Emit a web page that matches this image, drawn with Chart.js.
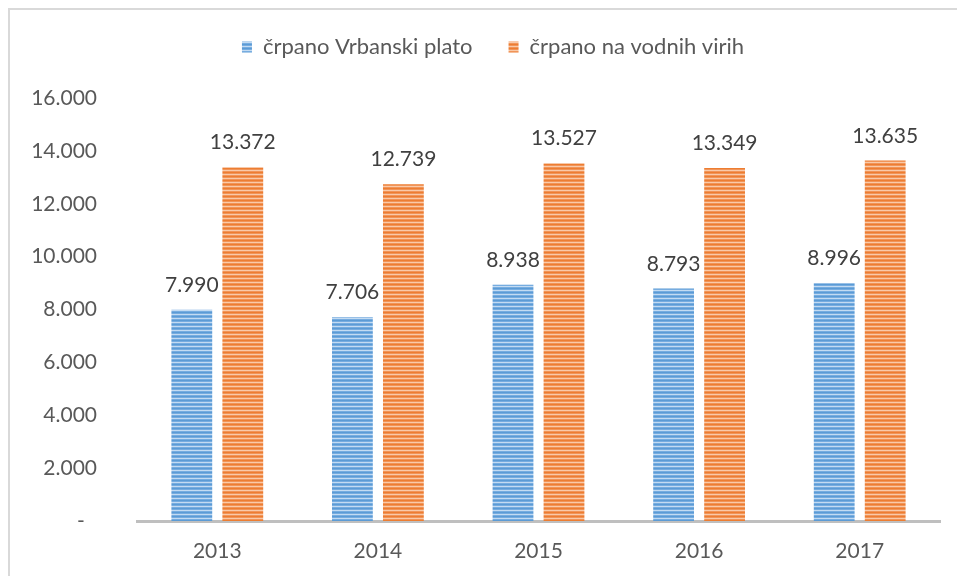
<!DOCTYPE html>
<html>
<head>
<meta charset="utf-8">
<script src="https://cdn.jsdelivr.net/npm/chart.js@4/dist/chart.umd.min.js"></script>
<style>
    html, body { margin: 0; padding: 0; background: #ffffff; }
    #wrap { width: 957px; height: 576px; position: relative; }
</style>
</head>
<body>
<div id="wrap"><canvas id="chartCrpanje"></canvas></div>
<script>
const years = ["2013", "2014", "2015", "2016", "2017"];
const vrbanskiPlato = [7990, 7706, 8938, 8793, 8996];
const vodniViri = [13372, 12739, 13527, 13349, 13635];
const seriesNames = ["črpano Vrbanski plato", "črpano na vodnih virih"];
const yMax = 16000;
const yStep = 2000;

const fmt = (n) => String(n).replace(/\B(?=(\d{3})+(?!\d))/g, ".");

// horizontal stripes like the excel fill
const stripes = (rows) => {
    const c = document.createElement("canvas");
    c.width = 4;
    c.height = rows.length;
    const g = c.getContext("2d");
    rows.forEach((col, i) => {
        g.fillStyle = col;
        g.fillRect(0, i, 4, 1);
    });
    return g.createPattern(c, "repeat");
};

const blueFill = stripes(["#5b9bd5", "#76ace0", "#c3dbf2", "#76ace0"]);
const orangeFill = stripes(["#ed7d31", "#f19458", "#f9caa8", "#f19458"]);

const frame = {
    id: "frame",
    beforeInit(chart) {
        const fit = chart.legend.fit;
        chart.legend.fit = function () {
            fit.bind(chart.legend)();
            this.height += 30;
        };
    },
    afterLayout(chart) {
        // legend sits a bit right of the canvas centre
        chart.legend.left += 18;
        chart.legend.right += 18;
    },
    beforeDraw(chart) {
        const ctx = chart.ctx;
        ctx.save();
        ctx.fillStyle = "#ffffff";
        ctx.fillRect(0, 0, chart.width, chart.height);
        ctx.strokeStyle = "#d9d9d9";
        ctx.lineWidth = 2;
        ctx.beginPath();
        ctx.moveTo(9, chart.height);
        ctx.lineTo(9, 9);
        ctx.lineTo(chart.width, 9);
        ctx.stroke();
        ctx.restore();
    },
};

const barLabels = {
    id: "barLabels",
    afterDatasetsDraw(chart) {
        const ctx = chart.ctx;
        ctx.save();
        ctx.font = "21px Lato";
        ctx.fillStyle = "#404040";
        ctx.textAlign = "center";
        ctx.textBaseline = "alphabetic";
        chart.data.datasets.forEach((ds, i) => {
            chart.getDatasetMeta(i).data.forEach((bar, j) => {
                ctx.fillText(fmt(ds.data[j]), bar.x, bar.y - 18);
            });
        });
        ctx.restore();
    },
};

new Chart(document.getElementById("chartCrpanje").getContext("2d"), {
    type: "bar",
    data: {
        labels: years,
        datasets: [
            {
                label: seriesNames[0],
                data: vrbanskiPlato,
                backgroundColor: blueFill,
                borderWidth: 0,
            },
            {
                label: seriesNames[1],
                data: vodniViri,
                backgroundColor: orangeFill,
                borderWidth: 0,
            },
        ],
    },
    options: {
        responsive: true,
        maintainAspectRatio: false,
        animation: false,
        categoryPercentage: 0.635,
        barPercentage: 0.8,
        layout: {
            padding: { top: 0, left: 10, right: 17, bottom: 0 },
        },
        plugins: {
            legend: {
                position: "top",
                labels: {
                    boxWidth: 10,
                    boxHeight: 11,
                    padding: 36,
                    color: "#595959",
                    font: { family: "Lato", size: 22 },
                },
            },
            tooltip: { enabled: false },
        },
        scales: {
            x: {
                grid: { display: false, drawTicks: false },
                border: { display: true, color: "#bfbfbf", width: 3 },
                afterFit(scale) {
                    scale.height = 55;
                },
                ticks: {
                    color: "#595959",
                    padding: 18,
                    font: { family: "Lato", size: 21 },
                },
            },
            y: {
                min: 0,
                max: yMax,
                grid: { display: false, drawTicks: false },
                border: { display: false },
                afterFit(scale) {
                    scale.width = 127;
                },
                ticks: {
                    stepSize: yStep,
                    color: "#595959",
                    padding: 40,
                    font: { family: "Lato", size: 21 },
                    callback: (v) => (v === 0 ? "-\u2007" : fmt(v)),
                },
            },
        },
    },
    plugins: [frame, barLabels],
});
</script>
</body>
</html>
